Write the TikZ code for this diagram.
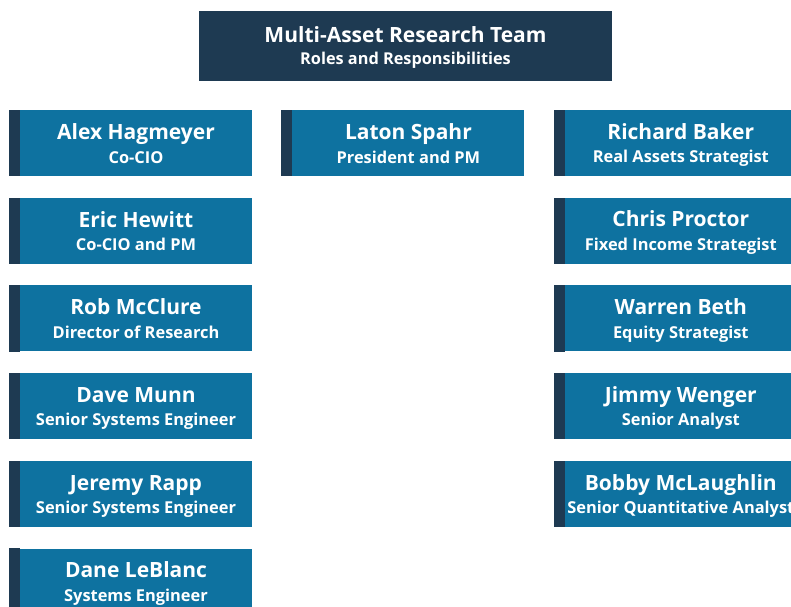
\documentclass[tikz,border=0pt]{standalone}
\usepackage{fontspec}
\setmainfont{Open Sans}
\usetikzlibrary{positioning}
\definecolor{teamnavy}{RGB}{30,58,82}
\definecolor{teamblue}{RGB}{14,114,160}
\newcommand{\bigname}[1]{{\fontsize{21}{23.5}\selectfont\rule{0pt}{20pt}#1}}

\begin{document}
\begin{tikzpicture}[
  x=1pt, y=1pt,
  node distance=21.3pt and 40pt,
  member/.style={fill=teamblue, text=white, minimum width=232pt, minimum height=66pt,
                 inner sep=0pt, align=center, font=\bfseries\fontsize{16.4}{23.5}\selectfont,
                 execute at end node={\rule[-3.5pt]{0pt}{3.5pt}}},
  header/.style={fill=teamnavy, text=white, minimum width=413pt, minimum height=70pt,
                 inner sep=0pt, align=center, font=\bfseries\fontsize{16.3}{22.6}\selectfont,
                 execute at end node={\rule[-5.4pt]{0pt}{5.4pt}}}
]
\useasboundingbox (0,0) rectangle (791,-606);
\clip (0,0) rectangle (791,-606);

\node[header] (title) at (405.5,-46) {\bigname{Multi-Asset Research Team}\\Roles and Responsibilities};

% left column
\node[member] (a1) at (136,-143) {\bigname{Alex Hagmeyer}\\Co-CIO};
\node[member, below=of a1] (a2) {\bigname{Eric Hewitt}\\Co-CIO and PM};
\node[member, below=of a2] (a3) {\bigname{Rob McClure}\\Director of Research};
\node[member, below=of a3] (a4) {\bigname{Dave Munn}\\Senior Systems Engineer};
\node[member, below=of a4] (a5) {\bigname{Jeremy Rapp}\\Senior Systems Engineer};
\node[member, below=of a5] (a6) {\bigname{Dane LeBlanc}\\Systems Engineer};

% middle column
\node[member, right=of a1] (b1) {\bigname{Laton Spahr}\\President and PM};

% right column
\node[member, right=of b1] (c1) {\bigname{Richard Baker}\\Real Assets Strategist};
\node[member, below=of c1] (c2) {\bigname{Chris Proctor}\\Fixed Income Strategist};
\node[member, below=of c2] (c3) {\bigname{Warren Beth}\\Equity Strategist};
\node[member, below=of c3] (c4) {\bigname{Jimmy Wenger}\\Senior Analyst};
\node[member, below=of c4] (c5) {\bigname{Bobby McLaughlin}\\Senior Quantitative Analyst};

% dark strip on the left of each box
\foreach \m in {a1,a2,a3,a4,a5,a6,b1,c1,c2,c3,c4,c5}
  \fill[teamnavy] (\m.north west) rectangle ([xshift=-11pt]\m.south west);
\end{tikzpicture}
\end{document}
